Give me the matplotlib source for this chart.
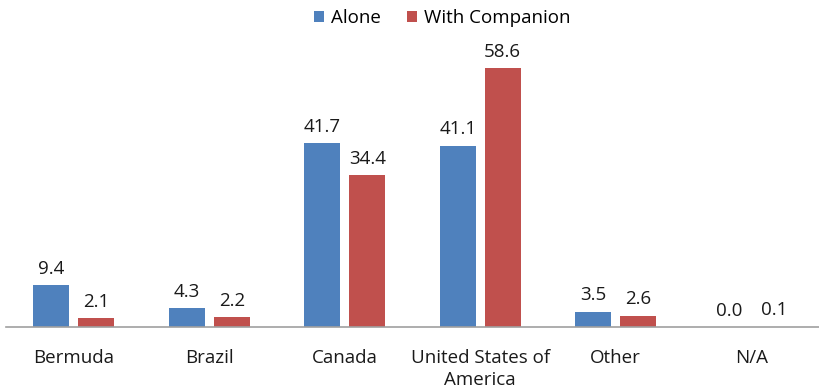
import numpy as np
import matplotlib.pyplot as plt

plt.rcParams['font.family'] = ['Open Sans', 'DejaVu Sans']

categories = ['Bermuda', 'Brazil', 'Canada', 'United States of\nAmerica', 'Other', 'N/A']
alone = [9.4, 4.3, 41.7, 41.1, 3.5, 0.0]
companion = [2.1, 2.2, 34.4, 58.6, 2.6, 0.1]

blue = '#4F81BD'
red = '#C0504D'

fig = plt.figure(figsize=(8.19, 3.89), dpi=100)
ax = fig.add_axes([6/819, 62/389, 813/819, 287/389])

x = np.arange(len(categories))
w = 0.266
off = 0.166
b1 = ax.bar(x - off, alone, w, color=blue, label='Alone')
b2 = ax.bar(x + off, companion, w, color=red, label='With Companion')

for bars, vals in [(b1, alone), (b2, companion)]:
    for r, v in zip(bars, vals):
        ax.text(r.get_x() + r.get_width()/2, v + 1.6, '%.1f' % v,
                ha='center', va='bottom', fontsize=13.5, color='#1a1a1a')

ax.set_xlim(-0.5, len(categories) - 0.5)
ax.set_ylim(0, 65)
ax.set_xticks(x)
ax.set_xticklabels(categories, fontsize=13.5, color='#1a1a1a', linespacing=1.25)
ax.tick_params(axis='x', length=0, pad=16)
ax.set_yticks([])
for s in ['top', 'right', 'left']:
    ax.spines[s].set_visible(False)
ax.spines['bottom'].set_color('#a0a0a0')
ax.spines['bottom'].set_linewidth(1.2)

fig.legend(handles=[b1, b2], loc='upper center', bbox_to_anchor=(0.54, 1.02), ncol=2,
           frameon=False, fontsize=13.5, handlelength=0.55, handleheight=0.55,
           handletextpad=0.35, columnspacing=1.4)

plt.savefig('out.png', dpi=100)
